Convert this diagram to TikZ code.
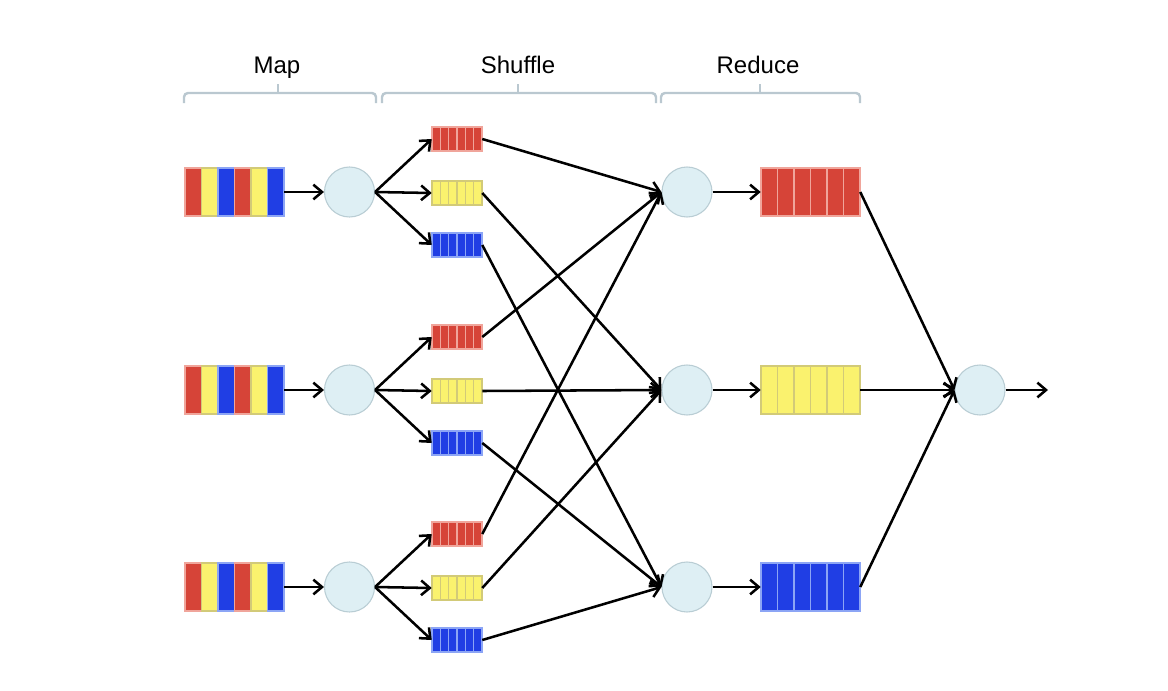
\documentclass[tikz,border=0pt]{standalone}
\usepackage{fontspec}
\newfontfamily\labfont{Liberation Sans}
\usetikzlibrary{arrows.meta}
\definecolor{qred}{RGB}{214,68,56}
\definecolor{qyel}{RGB}{250,242,110}
\definecolor{qblu}{RGB}{32,62,228}
\definecolor{qredb}{RGB}{240,165,155}
\definecolor{qyelb}{RGB}{210,202,120}
\definecolor{qblub}{RGB}{140,165,245}
\definecolor{cfill}{RGB}{222,239,244}
\definecolor{cdraw}{RGB}{185,205,212}
\definecolor{brk}{RGB}{186,200,208}
\newcommand{\qbars}[5]{%
  \foreach \col [count=\i from 0] in {#5} {%
    \filldraw[fill=\col, draw=\col b, line width=0.8pt]
      ({#1-#3/2+\i*#3/6},{#2-#4/2}) rectangle ({#1-#3/2+(\i+1)*#3/6},{#2+#4/2});
  }}
\begin{document}
\begin{tikzpicture}[x=0.75pt,y=-0.75pt,
  conn/.style={line width=1.9pt, draw=black},
  arr/.style={conn, -{Straight Barb[length=6.5pt,width=11pt]}},
  proc/.style={circle, fill=cfill, draw=cdraw, line width=0.8pt, minimum size=37.5pt, inner sep=0pt},
  bigq/.style={rectangle, minimum width=74.25pt, minimum height=36pt, inner sep=0pt},
  smallq/.style={rectangle, minimum width=37.5pt, minimum height=18pt, inner sep=0pt},
  bracket/.style={draw=brk, line width=1.8pt, rounded corners=3pt},
  lab/.style={font=\labfont\fontsize{18}{21}\selectfont, anchor=base, inner sep=0pt}]
\useasboundingbox (0,0) rectangle (1168,690);
\fill[white] (0,0) rectangle (1168,690);

% labels and brackets
\node[lab] (lmap) at (277,73) {Map};
\node[lab] (lshuf) at (518,73) {Shuffle};
\node[lab] (lred) at (758,73) {Reduce};
\draw[bracket] (184,103) -- (184,93) -- (376,93) -- (376,103);
\draw[bracket] (278,93) -- (278,84);
\draw[bracket] (382,103) -- (382,93) -- (656,93) -- (656,103);
\draw[bracket] (518,93) -- (518,84);
\draw[bracket] (661,103) -- (661,93) -- (860,93) -- (860,103);
\draw[bracket] (760,93) -- (760,84);

% map rows
\foreach \c/\k in {192/1,390/2,587/3} {
  \qbars{234.5}{\c}{99}{48}{qred,qyel,qblu,qred,qyel,qblu}
  \node[bigq] (in\k) at (234.5,\c) {};
  \node[proc] (m\k) at (349.5,\c) {};
  \qbars{457}{\c-53}{50}{24}{qred,qred,qred,qred,qred,qred}
  \node[smallq] (sr\k) at (457,\c-53) {};
  \qbars{457}{\c+1}{50}{24}{qyel,qyel,qyel,qyel,qyel,qyel}
  \node[smallq] (sy\k) at (457,\c+1) {};
  \qbars{457}{\c+53}{50}{24}{qblu,qblu,qblu,qblu,qblu,qblu}
  \node[smallq] (sb\k) at (457,\c+53) {};
  \draw[arr] (in\k) -- (m\k);
  \draw[arr] (m\k.east) -- (sr\k.west);
  \draw[arr] (m\k.east) -- (sy\k.west);
  \draw[arr] (m\k.east) -- (sb\k.west);
}

% reduce rows
\foreach \c/\k/\rc in {192/1/qred,390/2/qyel,587/3/qblu} {
  \node[proc] (r\k) at (687,\c) {};
  \qbars{810.5}{\c}{99}{48}{\rc,\rc,\rc,\rc,\rc,\rc}
  \node[bigq] (rq\k) at (810.5,\c) {};
  \draw[arr] (r\k) -- (rq\k);
}

% shuffle connections
\foreach \k in {1,2,3} {
  \draw[arr] (sr\k.east) -- (r1.west);
  \draw[arr] (sy\k.east) -- (r2.west);
  \draw[arr] (sb\k.east) -- (r3.west);
}

% final
\node[proc] (f) at (980,390) {};
\coordinate (out) at (1048,390);
\foreach \k in {1,2,3} {
  \draw[arr] (rq\k.east) -- (f.west);
}
\draw[arr] (f) -- (out);
\end{tikzpicture}
\end{document}
